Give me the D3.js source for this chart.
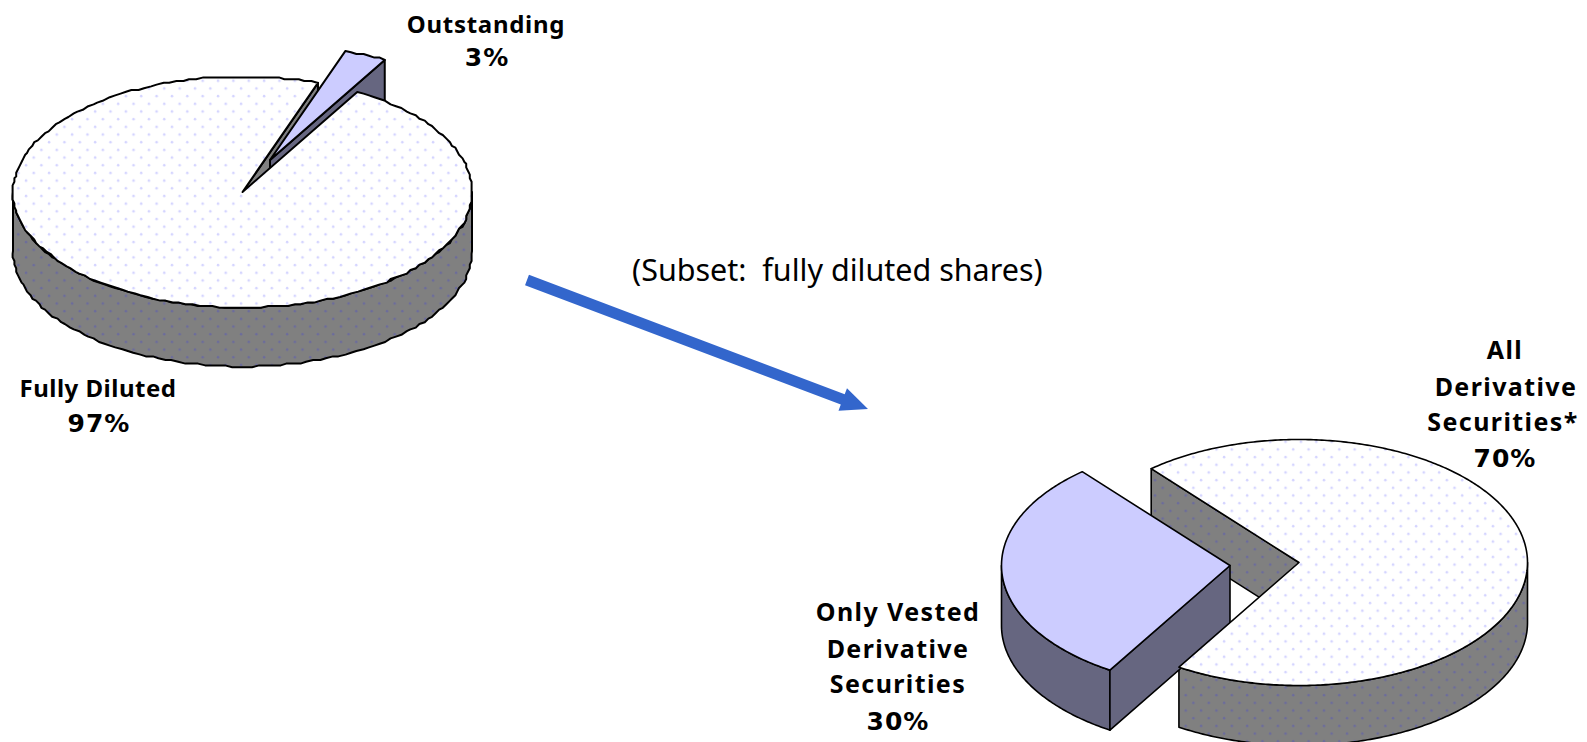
<!DOCTYPE html>
<html><head><meta charset="utf-8">
<script src="https://cdn.jsdelivr.net/npm/d3@7"></script>
<style>html,body{margin:0;padding:0;background:#fff;overflow:hidden}svg{display:block}
.lab{font-family:"Noto Sans",sans-serif;font-weight:700;fill:#000;text-anchor:middle}
.pct{font-family:"DejaVu Sans",sans-serif;font-weight:700;font-size:25px;letter-spacing:1px;fill:#000;text-anchor:middle}
.note{font-family:"Noto Sans",sans-serif;font-size:30.5px;fill:#000}</style>
</head><body>
<script>
// Data
const topCategories = ["Fully Diluted", "Outstanding"];
const topValues = [97, 3];
const bottomCategories = ["All Derivative Securities*", "Only Vested Derivative Securities"];
const bottomValues = [70, 30];
const noteText = "(Subset:\u00A0\u00A0fully diluted shares)";

// Layout
const W = 1587, H = 742;
const svg = d3.select("body").append("svg").attr("width", W).attr("height", H);
const defs = svg.append("defs");
function dots(id, bg, dot) {
  const p = defs.append("pattern").attr("id", id).attr("patternUnits", "userSpaceOnUse")
    .attr("width", 15.36).attr("height", 15.36);
  p.append("rect").attr("width", 15.36).attr("height", 15.36).attr("fill", bg);
  [[3, 4], [10.68, 11.68]].forEach(d => p.append("circle").attr("cx", d[0]).attr("cy", d[1]).attr("r", 1.25).attr("fill", dot));
}
dots("topDots", "#ffffff", "#d4d4ff");
dots("sideDots", "#808080", "#6c6c9c");
const LIGHT = "#ccccff", DARK = "#666680";
const lineGen = d3.line();

function drawPie(cfg) {
  const {cx, cy, rx, ry, depth, start, values, off, grain, sw, cutAtMainEnd} = cfg;
  const arcs = d3.pie().sort(null).startAngle(start).endAngle(start + 2 * Math.PI)(values);
  const main = arcs[0], slice = arcs[1];
  const q = v => grain ? Math.round(v / grain) * grain : v;
  const P = (a, dx = 0, dy = 0) => [cx + dx + rx * Math.sin(a), cy + dy - ry * Math.cos(a)];
  const rim = (a0, a1, dx = 0, dy = 0) => {
    const n = Math.max(2, Math.ceil(Math.abs(a1 - a0) / (grain ? 0.03 : 0.012)));
    return d3.range(n + 1).map(i => {
      const p = P(a0 + (a1 - a0) * i / n, dx, dy);
      return (i === 0 || i === n) ? p : [q(p[0]), q(p[1])];
    });
  };
  const shape = (pts, fill) => svg.append("path")
    .attr("d", lineGen(pts) + "Z").attr("fill", fill).attr("stroke", "#000")
    .attr("stroke-width", sw).attr("stroke-linejoin", "round");
  const TAU = 2 * Math.PI;
  const frontWall = (a0, a1, dx, dy, fill) => {
    // the visible outer wall is the part of the rim facing the viewer
    [0, TAU, 2 * TAU].forEach(k => {
      const lo = Math.max(a0, Math.PI / 2 + k), hi = Math.min(a1, 3 * Math.PI / 2 + k);
      if (hi > lo) shape(rim(lo, hi, dx, dy).concat(rim(hi, lo, dx, dy + depth)), fill);
    });
  };

  const c = [cx, cy];
  const bottom = p => [p[0], p[1] + depth];

  // Front wall of the large slice
  frontWall(main.startAngle, main.endAngle, 0, 0, "url(#sideDots)");
  // Cut face of the large slice, seen through the gap
  const cutEnd = P(cutAtMainEnd ? main.endAngle : main.startAngle);
  shape([c, cutEnd, bottom(cutEnd), bottom(c)], "url(#sideDots)");

  // Pulled-out slice
  const [ox, oy] = off;
  frontWall(slice.startAngle, slice.endAngle, ox, oy, DARK);
  const sc = [cx + ox, cy + oy];
  const faceEnd = P(cutAtMainEnd ? slice.endAngle : slice.startAngle, ox, oy);
  shape([sc, faceEnd, bottom(faceEnd), bottom(sc)], DARK);
  shape([sc].concat(rim(slice.startAngle, slice.endAngle, ox, oy)), LIGHT);

  // Top of the large slice
  shape([c].concat(rim(main.startAngle, main.endAngle)), "url(#topDots)");
}

drawPie({cx: 242.5, cy: 192, rx: 229.5, ry: 115.5, depth: 59, start: 30 * Math.PI / 180, values: topValues,
  off: [27.5, -32], grain: 1.8, sw: 2, cutAtMainEnd: true});
drawPie({cx: 1299, cy: 562.5, rx: 228.5, ry: 123, depth: 60, start: -40.3 * Math.PI / 180 + 2 * Math.PI, values: bottomValues,
  off: [-69, 3], grain: 0, sw: 1.6, cutAtMainEnd: false});

// Labels
const pct = v => v + "%";
function label(lines, xs, ys, size, spacing) {
  lines.forEach((t, i) => svg.append("text").attr("class", "lab")
    .attr("x", xs[i]).attr("y", ys[i]).attr("font-size", size).attr("letter-spacing", spacing).text(t));
}
function pctLabel(v, x, y) {
  svg.append("text").attr("class", "pct").attr("x", x).attr("y", y).text(pct(v));
}
label([topCategories[1]], [486], [33], 24, 0.7);
pctLabel(topValues[1], 487, 66);
label([topCategories[0]], [98], [397], 24, 0.5);
pctLabel(topValues[0], 99, 432);
label(["All", "Derivative", "Securities*"], [1505, 1506, 1503], [359, 396, 431], 25, 1.4);
pctLabel(bottomValues[0], 1505, 467);
label(["Only Vested", "Derivative", "Securities"], [898, 898, 898], [621, 658, 693], 25, 1.4);
pctLabel(bottomValues[1], 898, 730);

svg.append("text").attr("class", "note").attr("x", 632).attr("y", 281).text(noteText);

// Arrow from the upper pie to the lower pie
const a0 = [527, 280], tip = [868, 409];
const ang = Math.atan2(tip[1] - a0[1], tip[0] - a0[0]);
const headLen = 27, headHalf = 12, half = 5.5;
const ux = Math.cos(ang), uy = Math.sin(ang), nx = -uy, ny = ux;
const at = (l, s) => [tip[0] - ux * l + nx * s, tip[1] - uy * l + ny * s];
const start = s => [a0[0] + nx * s, a0[1] + ny * s];
svg.append("path").attr("fill", "#3366cc").attr("d", lineGen([
  start(-half), at(headLen, -half), at(headLen, -headHalf), tip, at(headLen, headHalf), at(headLen, half), start(half)
]) + "Z");
</script>
</body></html>
